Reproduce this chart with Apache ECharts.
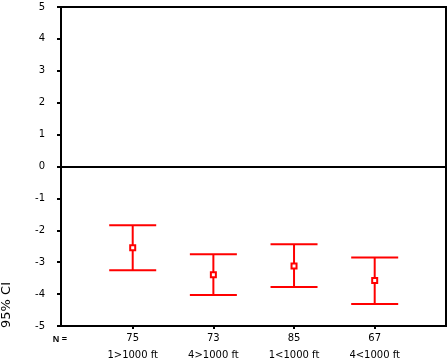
<!DOCTYPE html>
<html>
<head>
<meta charset="utf-8">
<script src="https://cdn.jsdelivr.net/npm/echarts@6/dist/echarts.min.js"></script>
<style>
html,body{margin:0;padding:0;background:#fff;}
#chart{width:447px;height:364px;}
</style>
</head>
<body>
<div id="chart"></div>
<script>
var categories = ['1>1000 ft', '4>1000 ft', '1<1000 ft', '4<1000 ft'];
var nValues = [75, 73, 85, 67];
var means = [-2.55, -3.39, -3.12, -3.57];
var lowerCI = [-3.25, -4.03, -3.78, -4.31];
var upperCI = [-1.84, -2.75, -2.44, -2.85];
var yTicks = [-5, -4, -3, -2, -1, 0, 1, 2, 3, 4, 5];

var positions = categories.map(function (c, i) { return i + 1; });
var data = positions.map(function (p, i) { return [p, means[i], lowerCI[i], upperCI[i]]; });

var chart = echarts.init(document.getElementById('chart'), null, { renderer: 'canvas' });
var RED = '#ff0000';
var font = 'DejaVu Sans';

chart.setOption({
  animation: false,
  backgroundColor: '#ffffff',
  grid: { left: 61, right: 1, top: 7, bottom: 36, show: true, borderColor: '#000', borderWidth: 2, backgroundColor: 'transparent' },
  xAxis: {
    type: 'value',
    min: 0.111,
    max: 4.884,
    splitLine: { show: false },
    axisLine: { show: true, onZero: false, lineStyle: { color: '#000', width: 2 } },
    axisTick: { show: true, customValues: positions, length: 3, lineStyle: { color: '#000', width: 2 } },
    axisLabel: {
      customValues: positions,
      margin: 4,
      fontFamily: font,
      fontSize: 10,
      color: '#000',
      lineHeight: 17,
      formatter: function (v) {
        var i = Math.round(v) - 1;
        return nValues[i] + '\n' + categories[i];
      }
    }
  },
  yAxis: {
    type: 'value',
    min: yTicks[0],
    max: yTicks[yTicks.length - 1],
    interval: 1,
    splitLine: { show: false },
    axisLine: { show: true, lineStyle: { color: '#000', width: 2 } },
    axisTick: { show: true, length: 4, lineStyle: { color: '#000', width: 2 } },
    axisLabel: { margin: 16, fontFamily: font, fontSize: 10, color: '#000' }
  },
  graphic: [
    { type: 'text', x: 7, y: 305, rotation: Math.PI / 2,
      style: { text: '95% CI', font: '13px "DejaVu Sans"', fill: '#000', align: 'center', verticalAlign: 'middle' } },
    { type: 'text', x: 60, y: 340, 
      style: { text: 'N =', font: 'bold 9px "Liberation Sans"', fill: '#000', align: 'center', verticalAlign: 'middle' } }
  ],
  series: [{
    type: 'custom',
    data: data,
    encode: { x: 0, y: [1, 2, 3] },
    renderItem: function (params, api) {
      var x = api.value(0);
      var m = api.coord([x, api.value(1)]);
      var lo = api.coord([x, api.value(2)]);
      var hi = api.coord([x, api.value(3)]);
      var hw = 23.5;
      var ls = { stroke: RED, lineWidth: 2 };
      return {
        type: 'group',
        children: [
          { type: 'line', shape: { x1: m[0], y1: lo[1], x2: m[0], y2: hi[1] }, style: ls },
          { type: 'line', shape: { x1: m[0] - hw, y1: lo[1], x2: m[0] + hw, y2: lo[1] }, style: ls },
          { type: 'line', shape: { x1: m[0] - hw, y1: hi[1], x2: m[0] + hw, y2: hi[1] }, style: ls },
          { type: 'rect', shape: { x: m[0] - 2.5, y: m[1] - 2.5, width: 5, height: 5 }, style: { fill: '#fff', stroke: RED, lineWidth: 2 } }
        ]
      };
    },
    markLine: {
      silent: true,
      symbol: 'none',
      label: { show: false },
      lineStyle: { color: '#000', width: 2, type: 'solid' },
      data: [{ yAxis: 0 }]
    }
  }]
});
</script>
</body>
</html>
